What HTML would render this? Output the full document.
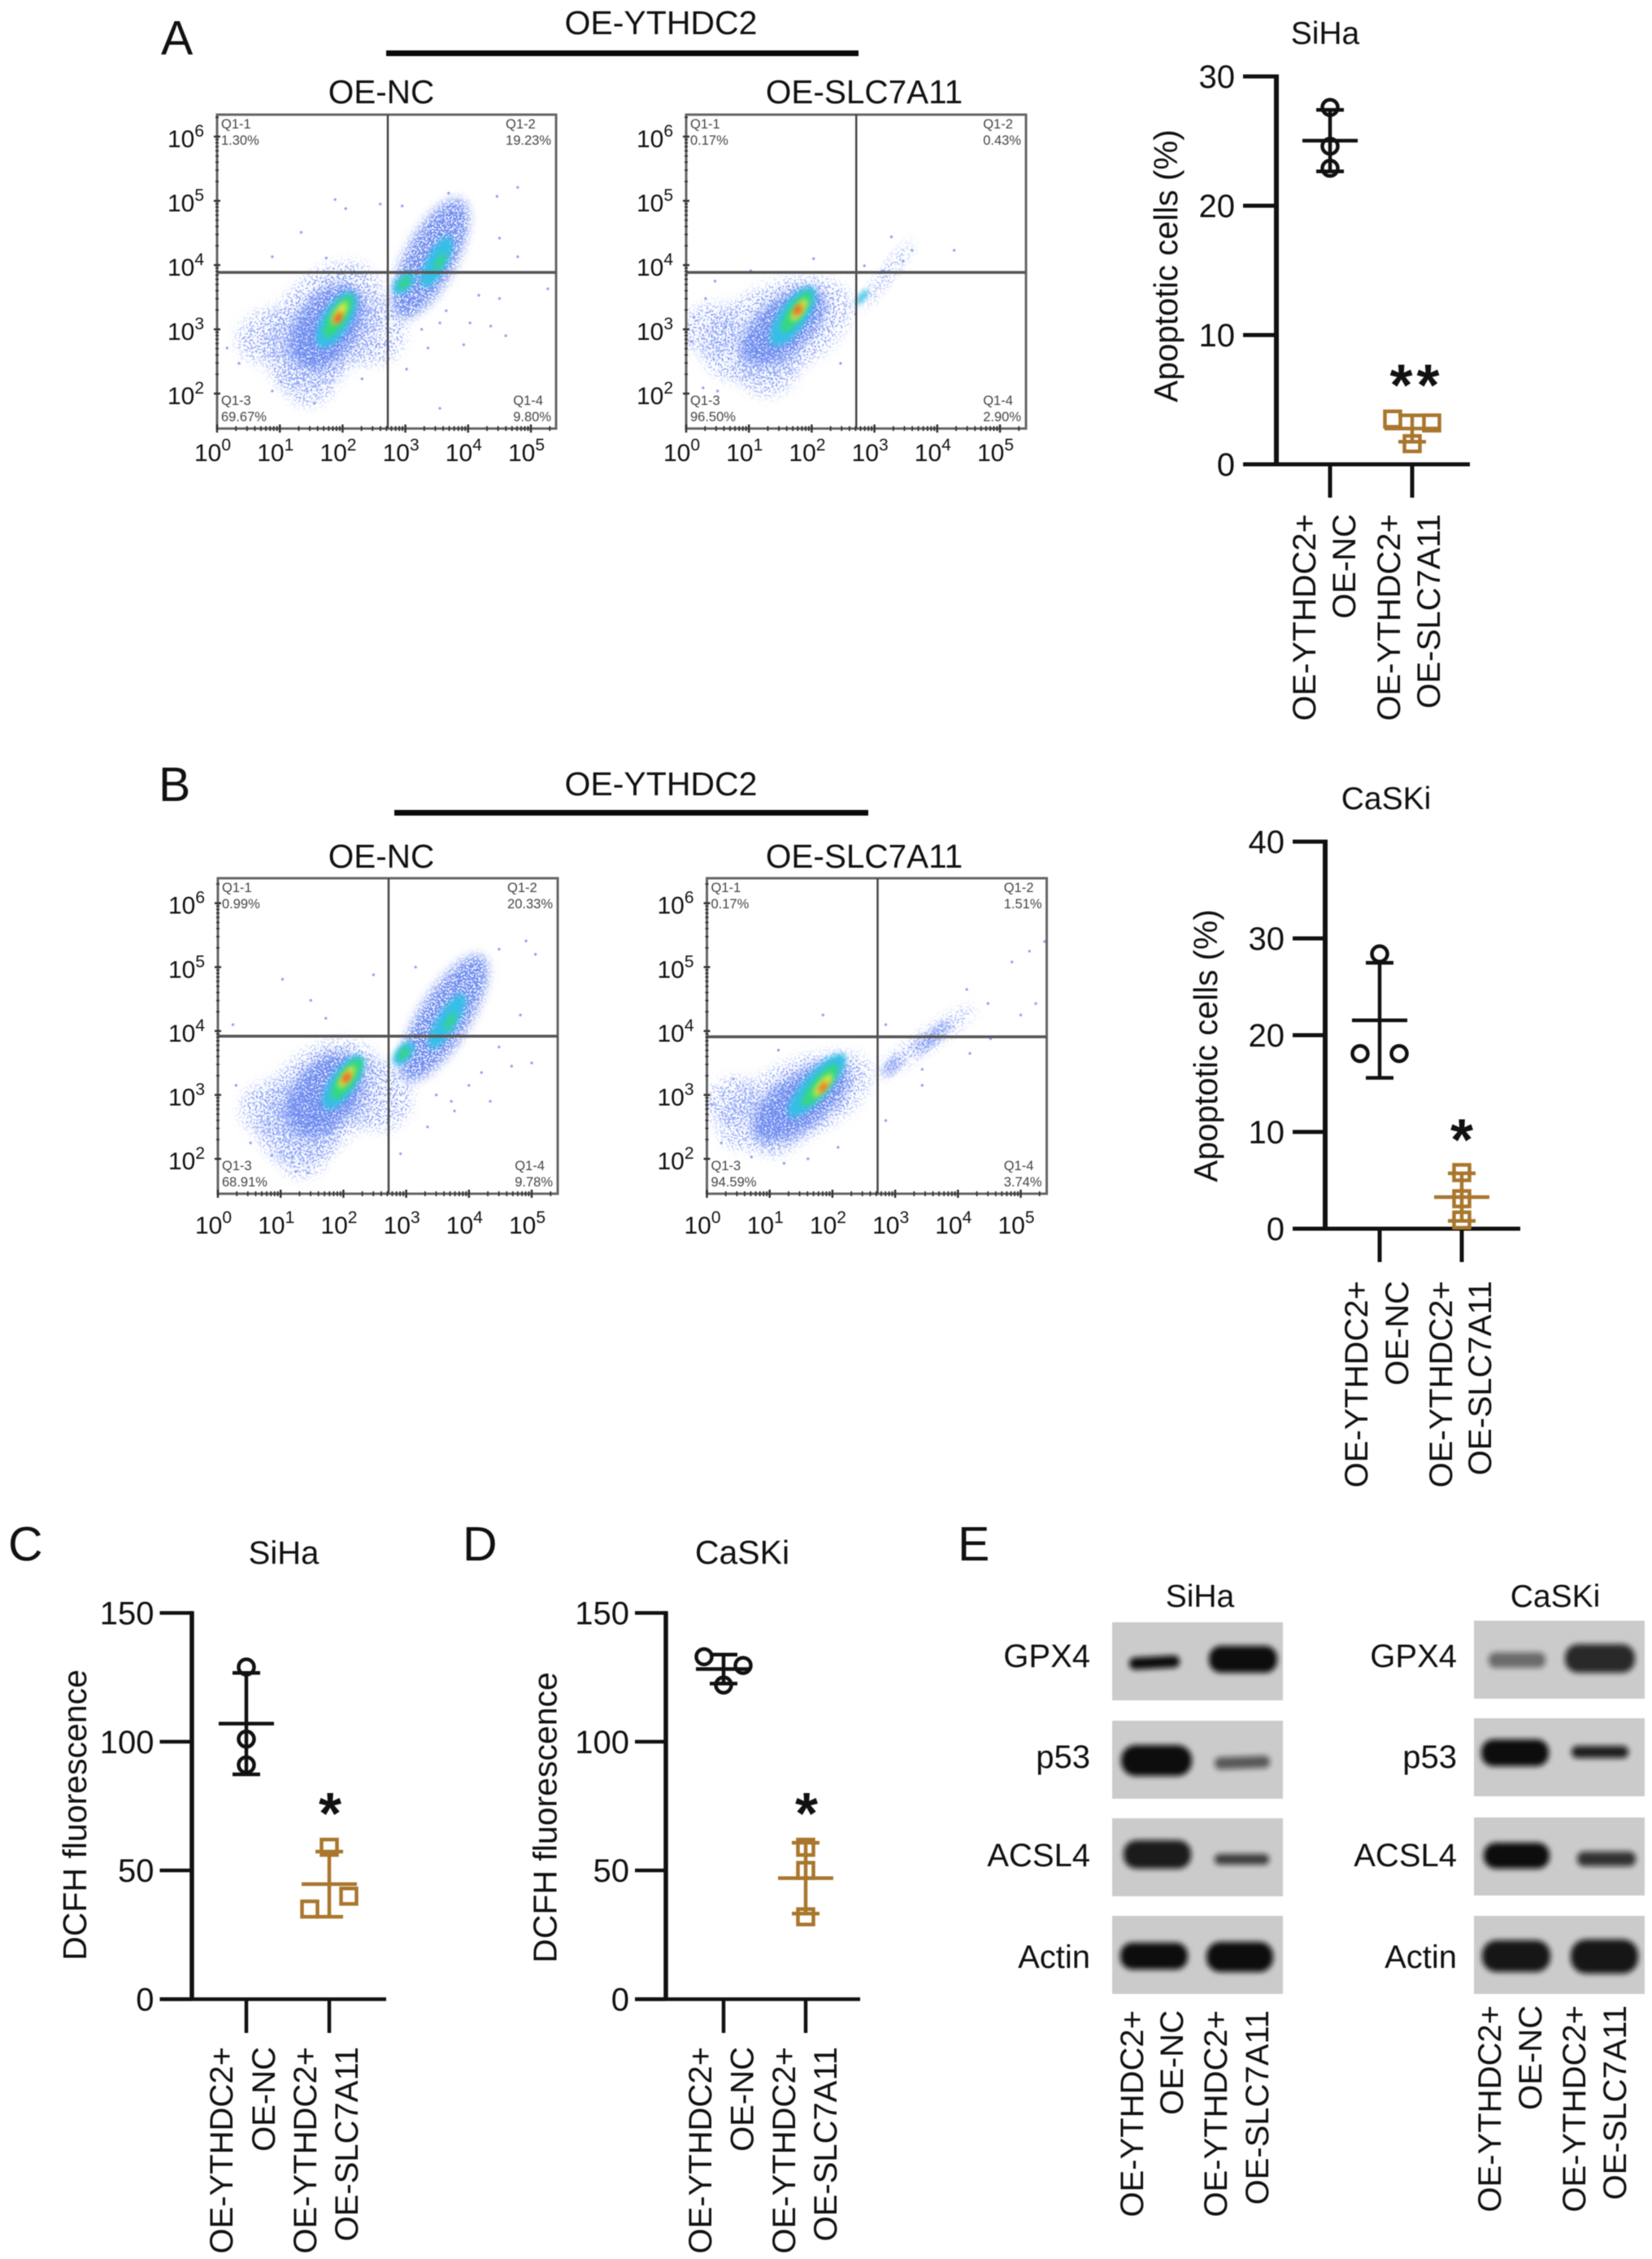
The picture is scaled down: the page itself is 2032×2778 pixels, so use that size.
<!DOCTYPE html>
<html lang="en">
<head>
<meta charset="utf-8">
<title>OE-YTHDC2 apoptosis and ferroptosis figure</title>
<style>
html,body{margin:0;padding:0;background:#fff;}
svg{display:block;filter:blur(0.6px);}
text{font-family:"Liberation Sans",sans-serif;fill:#111;}
</style>
</head>
<body>
<svg id="figure" xmlns="http://www.w3.org/2000/svg" width="2032" height="2778" viewBox="0 0 2032 2778">
<defs>
<filter id="speckSparse" x="-40%" y="-40%" width="180%" height="180%">
<feGaussianBlur in="SourceGraphic" stdDeviation="7" result="b"/>
<feTurbulence type="fractalNoise" baseFrequency="0.42" numOctaves="1" seed="4" result="n"/>
<feColorMatrix in="n" type="matrix" values="0 0 0 0 0 0 0 0 0 0 0 0 0 0 0 0 0 0 12 -6.2" result="m"/>
<feComposite in="b" in2="m" operator="in"/>
</filter>
<filter id="speck" x="-40%" y="-40%" width="180%" height="180%">
<feGaussianBlur in="SourceGraphic" stdDeviation="6" result="b"/>
<feTurbulence type="fractalNoise" baseFrequency="0.5" numOctaves="1" seed="9" result="n"/>
<feColorMatrix in="n" type="matrix" values="0 0 0 0 0 0 0 0 0 0 0 0 0 0 0 0 0 0 10 -4" result="m"/>
<feComposite in="b" in2="m" operator="in"/>
</filter>
<filter id="soft" x="-50%" y="-50%" width="200%" height="200%"><feGaussianBlur stdDeviation="3.5"/></filter>
<filter id="band" x="-20%" y="-50%" width="140%" height="200%"><feGaussianBlur stdDeviation="3.5"/></filter>
</defs>

<text x="198" y="67" font-size="59">A</text>
<text x="195" y="985" font-size="59">B</text>
<text x="10" y="1919" font-size="59">C</text>
<text x="569" y="1919" font-size="59">D</text>
<text x="1178" y="1919" font-size="59">E</text>

<text x="813" y="42" font-size="41" text-anchor="middle">OE-YTHDC2</text>
<rect x="475" y="62" width="581" height="7" fill="#0a0a0a"/>
<text x="469" y="127" font-size="40.5" text-anchor="middle">OE-NC</text>
<text x="1063" y="127" font-size="40.5" text-anchor="middle">OE-SLC7A11</text>

<text x="813" y="978" font-size="41" text-anchor="middle">OE-YTHDC2</text>
<rect x="485" y="996" width="583" height="7" fill="#0a0a0a"/>
<text x="469" y="1067" font-size="40.5" text-anchor="middle">OE-NC</text>
<text x="1063" y="1067" font-size="40.5" text-anchor="middle">OE-SLC7A11</text>

<g id="flowLayer"></g>
<g id="dotLayer"></g>

<g>
<text x="1476" y="1976" font-size="39" text-anchor="middle">SiHa</text>
<text x="1913" y="1976" font-size="39" text-anchor="middle">CaSKi</text>

<rect x="1368" y="1995" width="210" height="96" fill="#cbcbcb"/>
<rect x="1368" y="2116" width="210" height="96" fill="#cbcbcb"/>
<rect x="1368" y="2236" width="210" height="96" fill="#cbcbcb"/>
<rect x="1368" y="2356" width="210" height="96" fill="#cbcbcb"/>
<rect x="1813" y="1993" width="210" height="96" fill="#cbcbcb"/>
<rect x="1813" y="2113" width="210" height="96" fill="#cbcbcb"/>
<rect x="1813" y="2235" width="210" height="96" fill="#cbcbcb"/>
<rect x="1813" y="2356" width="210" height="96" fill="#cbcbcb"/>

<g fill="#0c0c0c">
<rect filter="url(#band)" x="1389" y="2037" width="62" height="15" rx="7" transform="rotate(-3 1420 2044)"/>
<rect filter="url(#band)" x="1487" y="2024" width="84" height="33" rx="15"/>
<rect filter="url(#band)" x="1379" y="2146" width="87" height="38" rx="18"/>
<rect filter="url(#band)" x="1494" y="2160" width="68" height="15" rx="7" opacity="0.6" transform="rotate(-2 1528 2168)"/>
<rect filter="url(#band)" x="1382" y="2263" width="83" height="35" rx="16" opacity="0.92"/>
<rect filter="url(#band)" x="1494" y="2280" width="67" height="13" rx="6" opacity="0.75"/>
<rect filter="url(#band)" x="1378" y="2389" width="83" height="33" rx="15"/>
<rect filter="url(#band)" x="1484" y="2388" width="82" height="37" rx="17"/>
<rect filter="url(#band)" x="1831" y="2032" width="70" height="19" rx="8" opacity="0.5"/>
<rect filter="url(#band)" x="1925" y="2022" width="86" height="35" rx="16" opacity="0.85"/>
<rect filter="url(#band)" x="1822" y="2139" width="83" height="33" rx="15"/>
<rect filter="url(#band)" x="1933" y="2147" width="70" height="15" rx="7" opacity="0.9"/>
<rect filter="url(#band)" x="1825" y="2266" width="81" height="32" rx="15"/>
<rect filter="url(#band)" x="1940" y="2277" width="72" height="18" rx="8" opacity="0.8"/>
<rect filter="url(#band)" x="1823" y="2386" width="84" height="39" rx="18" opacity="0.95"/>
<rect filter="url(#band)" x="1932" y="2385" width="83" height="42" rx="19" opacity="0.95"/>
</g>

<text x="1341" y="2050" font-size="40" text-anchor="end">GPX4</text>
<text x="1341" y="2174" font-size="40" text-anchor="end">p53</text>
<text x="1341" y="2295" font-size="40" text-anchor="end">ACSL4</text>
<text x="1341" y="2420" font-size="40" text-anchor="end">Actin</text>
<text x="1792" y="2050" font-size="40" text-anchor="end">GPX4</text>
<text x="1792" y="2174" font-size="40" text-anchor="end">p53</text>
<text x="1792" y="2295" font-size="40" text-anchor="end">ACSL4</text>
<text x="1792" y="2420" font-size="40" text-anchor="end">Actin</text>

<text transform="rotate(-90 1406 2472)" x="1406" y="2472" font-size="40" text-anchor="end">OE-YTHDC2+</text>
<text transform="rotate(-90 1455 2472)" x="1455" y="2472" font-size="40" text-anchor="end">OE-NC</text>
<text transform="rotate(-90 1509 2472)" x="1509" y="2472" font-size="40" text-anchor="end">OE-YTHDC2+</text>
<text transform="rotate(-90 1560 2472)" x="1560" y="2472" font-size="40" text-anchor="end">OE-SLC7A11</text>
<text transform="rotate(-90 1846 2466)" x="1846" y="2466" font-size="40" text-anchor="end">OE-YTHDC2+</text>
<text transform="rotate(-90 1896 2466)" x="1896" y="2466" font-size="40" text-anchor="end">OE-NC</text>
<text transform="rotate(-90 1950 2466)" x="1950" y="2466" font-size="40" text-anchor="end">OE-YTHDC2+</text>
<text transform="rotate(-90 2000 2466)" x="2000" y="2466" font-size="40" text-anchor="end">OE-SLC7A11</text>
</g>
</svg>

<script>
/* ---------- Dot plot data ---------- */
const categoryFirstLine = ["OE-YTHDC2+", "OE-YTHDC2+"];
const categorySecondLine = ["OE-NC", "OE-SLC7A11"];

const apoptosisSihaTicks = [0, 10, 20, 30];
const apoptosisSihaNc = [27.6, 24.6, 22.9];
const apoptosisSihaNcSlots = [0, 0, 0];
const apoptosisSihaSlc = [3.5, 3.2, 1.6];
const apoptosisSihaSlcSlots = [-1, 1, 0];
const apoptosisSihaStarValue = 6.5;

const apoptosisCaskiTicks = [0, 10, 20, 30, 40];
const apoptosisCaskiNc = [28.4, 18.1, 18.1];
const apoptosisCaskiNcSlots = [0, -1, 1];
const apoptosisCaskiSlc = [5.8, 3.1, 0.9];
const apoptosisCaskiSlcSlots = [0, 0, 0];
const apoptosisCaskiStarValue = 9.7;

const dcfhTicks = [0, 50, 100, 150];
const dcfhSihaNc = [129, 101, 91];
const dcfhSihaNcSlots = [0, 0, 0];
const dcfhSihaSlc = [59, 40, 35];
const dcfhSihaSlcSlots = [0, 1, -1];
const dcfhSihaStarValue = 74;

const dcfhCaskiNc = [133, 129.6, 122];
const dcfhCaskiNcSlots = [-1, 1, 0];
const dcfhCaskiSlc = [59, 50, 32];
const dcfhCaskiSlcSlots = [0, 0, 0];
const dcfhCaskiStarValue = 74;

/* ---------- Flow cytometry data (log10 units) ---------- */
const flowXDecades = [0, 1, 2, 3, 4, 5];
const flowYDecades = [2, 3, 4, 5, 6];
const densityPalette = ['#8ea4f6', '#6c8aef', '#35bfe6', '#35d97a', '#ecea3a', '#ee4a22'];

const aNcGateX = 2.72;
const aNcGateY = 3.886;
const aNcQuadPercents = ["1.30%", "19.23%", "69.67%", "9.80%"];
const aNcDensityX = [1.7, 1.5, 0.8, 2.4, 3.4, 1.75, 1.9, 3.5, 2.98, 1.93, 3.55, 2.98, 1.95, 1.93];
const aNcDensityY = [3.05, 2.5, 2.9, 3.0, 4.1, 3.05, 3.15, 4.05, 3.72, 3.2, 4.05, 3.72, 3.25, 3.18];
const aNcDensityLong = [1.15, 0.7, 0.5, 0.55, 1.05, 0.75, 0.5, 0.45, 0.22, 0.38, 0.15, 0.12, 0.2, 0.1];
const aNcDensityShort = [0.75, 0.5, 0.4, 0.6, 0.4, 0.48, 0.22, 0.16, 0.12, 0.13, 0.05, 0.06, 0.07, 0.05];
const aNcDensityTilt = [-50, -80, -30, -60, -62, -55, -58, -62, -45, -58, -60, -45, -58, -58];
const aNcDensityLevel = [0, 0, 0, 0, 1, 1, 2, 2, 2, 3, 3, 3, 4, 5];
const aNcSparseX = [1.34, 1.88, 2.05, 2.6, 2.95, 3.69, 4.79, 4.46, 0.88, 1.74, 0.35, 0.88, 1.55, 3.55, 3.02, 4.03, 4.36, 4.6, 5.27, 4.5, 4.79, 4.5, 3.36, 3.55, 1.02, 0.16, 3.93, 2.31, 2.93, 3.26, 3.65, 4.17];
const aNcSparseY = [4.51, 5.02, 4.88, 4.95, 4.92, 5.12, 5.21, 5.07, 4.13, 4.11, 2.47, 2.04, 1.85, 1.77, 2.38, 3.1, 3.05, 2.9, 3.63, 3.48, 4.13, 4.42, 2.71, 3.1, 2.18, 2.71, 2.76, 2.23, 3.29, 3, 3.29, 3.53];

const aSlcGateX = 2.71;
const aSlcGateY = 3.886;
const aSlcQuadPercents = ["0.17%", "0.43%", "96.50%", "2.90%"];
const aSlcDensityX = [1.45, 1.3, 0.4, 3.2, 1.55, 1.7, 2.8, 1.75, 1.8, 1.78];
const aSlcDensityY = [3.0, 2.5, 3.0, 3.85, 3.05, 3.2, 3.5, 3.27, 3.3, 3.3];
const aSlcDensityLong = [1.25, 0.55, 0.45, 0.65, 0.8, 0.55, 0.15, 0.38, 0.2, 0.1];
const aSlcDensityShort = [0.7, 0.5, 0.4, 0.1, 0.42, 0.22, 0.05, 0.12, 0.07, 0.05];
const aSlcDensityTilt = [-25, -80, -20, -52, -40, -55, -50, -55, -55, -55];
const aSlcDensityLevel = [0, 0, 0, 0, 1, 2, 2, 3, 4, 5];
const aSlcSparseX = [4.27, 3.27, 3.6, 2.03, 1.03, 0.46, 0.31, 0.27, 0.5, 2.46, 1.36, 0.08, 2.84, 3.13, 3.46, 0.89, 0.12, 2.7];
const aSlcSparseY = [4.23, 4.44, 4.23, 4.1, 3.91, 3.75, 3.48, 2.09, 2.04, 2.47, 2.23, 2.81, 3.99, 3.91, 4.06, 2.57, 3.19, 3.24];

const bNcGateX = 2.72;
const bNcGateY = 3.92;
const bNcQuadPercents = ["0.99%", "20.33%", "68.91%", "9.78%"];
const bNcDensityX = [1.6, 1.4, 0.8, 2.5, 3.6, 1.7, 2.0, 3.65, 2.96, 2.05, 3.7, 2.96, 2.05, 2.05];
const bNcDensityY = [2.9, 2.45, 2.8, 3.0, 4.2, 3.0, 3.2, 4.15, 3.65, 3.25, 4.15, 3.65, 3.28, 3.27];
const bNcDensityLong = [1.15, 0.75, 0.45, 0.55, 1.15, 0.75, 0.5, 0.5, 0.22, 0.38, 0.15, 0.12, 0.2, 0.1];
const bNcDensityShort = [0.75, 0.5, 0.4, 0.6, 0.4, 0.5, 0.2, 0.16, 0.12, 0.13, 0.05, 0.06, 0.07, 0.05];
const bNcDensityTilt = [-45, -80, -30, -60, -58, -52, -55, -58, -50, -55, -60, -50, -55, -55];
const bNcDensityLevel = [0, 0, 0, 0, 1, 1, 2, 2, 2, 3, 3, 3, 4, 5];
const bNcSparseX = [1.03, 4.91, 4.48, 5.06, 2.48, 3.15, 1.48, 0.24, 1.72, 4.82, 5, 4.68, 4.34, 4.2, 3.72, 3.48, 3.77, 3.34, 0.86, 1.24, 1.43, 2.91, 0.29, 0.52, 4.48, 4];
const bNcSparseY = [4.81, 5.41, 5.28, 5.2, 4.88, 5, 4.48, 4.1, 4.2, 4.25, 3.5, 3.45, 2.9, 3.35, 2.9, 3, 2.75, 2.5, 2.05, 1.8, 1.78, 2.08, 3.15, 2.25, 3.75, 3.15];

const bSlcGateX = 2.72;
const bSlcGateY = 3.91;
const bSlcQuadPercents = ["0.17%", "1.51%", "94.59%", "3.74%"];
const bSlcDensityX = [1.4, 1.2, 0.4, 3.5, 1.5, 2.95, 1.75, 3.6, 1.8, 1.85, 1.85];
const bSlcDensityY = [2.9, 2.6, 2.9, 3.85, 2.9, 3.45, 3.15, 3.9, 3.15, 3.15, 3.12];
const bSlcDensityLong = [1.3, 0.6, 0.45, 0.9, 0.9, 0.2, 0.65, 0.35, 0.42, 0.22, 0.1];
const bSlcDensityShort = [0.6, 0.4, 0.35, 0.15, 0.42, 0.08, 0.2, 0.08, 0.12, 0.07, 0.04];
const bSlcDensityTilt = [-25, -60, -20, -35, -35, -45, -48, -40, -50, -50, -50];
const bSlcDensityLevel = [0, 0, 0, 0, 1, 1, 2, 1, 3, 4, 5];
const bSlcSparseX = [5.38, 5.14, 4.86, 4.14, 4.48, 5.24, 5, 2.85, 1.85, 1.14, 0.42, 4.52, 4.19, 3.43, 2.85, 2.09, 1.23, 0.71, 0.23, 0.09, 1.61, 3.43];
const bSlcSparseY = [5.4, 5.25, 5.08, 4.65, 4.43, 4.43, 4.25, 4.1, 4.25, 3.7, 3.25, 3.88, 3.65, 3.15, 2.6, 2.18, 1.93, 2.03, 2.25, 2.85, 2, 3.4];

/* ---------- Helpers ---------- */
const SVG_NS = 'http://www.w3.org/2000/svg';
const BROWN = '#a9762d';
const INK = '#111111';

function shape(tag, attrs, parent) {
  const el = document.createElementNS(SVG_NS, tag);
  for (const key in attrs) el.setAttribute(key, attrs[key]);
  parent.appendChild(el);
  return el;
}
function line(parent, x1, y1, x2, y2, color, width) {
  return shape('line', {x1: x1, y1: y1, x2: x2, y2: y2, stroke: color, 'stroke-width': width}, parent);
}
function label(parent, x, y, str, size, anchor) {
  const el = shape('text', {x: x, y: y, 'font-size': size, 'text-anchor': anchor || 'start'}, parent);
  el.textContent = str;
  return el;
}
function mean(values) {
  return values.reduce(function (a, b) { return a + b; }, 0) / values.length;
}
function stdDev(values) {
  const m = mean(values);
  return Math.sqrt(values.reduce(function (a, b) { return a + (b - m) * (b - m); }, 0) / (values.length - 1));
}

/* ---------- Dot plot ---------- */
function drawDotPlot(c) {
  const g = shape('g', {}, document.getElementById('dotLayer'));
  
  
  const yOf = function (v) { return c.y0 + (c.yTop - c.y0) * v / c.yMax; };

  const title = label(g, c.titleX, c.titleY, c.title, c.titleSize, 'middle');
  
  

  const yTitle = label(g, c.yTitleX, c.yTitleY, c.yTitle, c.yTitleSize, 'middle');
  yTitle.setAttribute('transform', 'rotate(-90 ' + c.yTitleX + ' ' + c.yTitleY + ')');
  
  

  const yAxis = line(g, c.axisX, yOf(c.yMax) - c.lw / 2, c.axisX, c.y0, INK, c.lw + 1);
  
  
  const xAxis = line(g, c.tickLeft, c.y0, c.axisEnd, c.y0, INK, c.lw);
  
  

  c.ticks.forEach(function (t) {
    const tick = line(g, c.tickLeft, yOf(t), c.axisX, yOf(t), INK, c.lw);
    
    
    const tl = label(g, c.tickLeft - c.tickGap, yOf(t) + 14, String(t), 40, 'end');
    
    
  });

  c.groups.forEach(function (grp, i) {
    const cx = c.catX[i];
    const color = i === 0 ? INK : BROWN;
    const gg = shape('g', {}, g);
    
    

    const tick = line(gg, cx, c.y0, cx, c.tickBottom, INK, c.lw);
    
    

    const first = label(gg, c.labelX[i][0], c.labelTop, categoryFirstLine[i], 40, 'end');
    first.setAttribute('transform', 'rotate(-90 ' + c.labelX[i][0] + ' ' + c.labelTop + ')');
    
    
    const second = label(gg, c.labelX[i][1], c.labelTop, categorySecondLine[i], 40, 'end');
    second.setAttribute('transform', 'rotate(-90 ' + c.labelX[i][1] + ' ' + c.labelTop + ')');
    
    

    const m = mean(grp.values);
    const sd = stdDev(grp.values);
    const meanLine = line(gg, cx - 34, yOf(m), cx + 34, yOf(m), color, 4.5);
    
    
    const stem = line(gg, cx, yOf(m + sd), cx, yOf(m - sd), color, 4.5);
    
    
    const capTop = line(gg, cx - 17, yOf(m + sd), cx + 17, yOf(m + sd), color, 4.5);
    
    
    const capBottom = line(gg, cx - 17, yOf(m - sd), cx + 17, yOf(m - sd), color, 4.5);
    
    

    grp.values.forEach(function (v, k) {
      const px = cx + grp.slots[k] * 24;
      let mark;
      if (i === 0) {
        mark = shape('circle', {cx: px, cy: yOf(v), r: 9.5, fill: 'none', stroke: color, 'stroke-width': 4.5}, gg);
      } else {
        mark = shape('rect', {x: px - 9.5, y: yOf(v) - 9.5, width: 19, height: 19, fill: 'none', stroke: color, 'stroke-width': 4.5}, gg);
      }
      
      
    });
  });

  for (let s = 0; s < c.stars; s++) {
    const sx = c.catX[1] + c.starShift + (s - (c.stars - 1) / 2) * 33;
    const star = label(g, sx, yOf(c.starValue) + 31, '*', 72, 'middle');
    star.setAttribute('font-weight', 'bold');
    
    
  }
}

drawDotPlot({
  name: 'chart-apoptosis-siha', title: 'SiHa', titleX: 1630, titleY: 54, titleSize: 39, tickGap: 10,
  yTitle: 'Apoptotic cells (%)', yTitleX: 1448, yTitleY: 327, yTitleSize: 40.5,
  axisX: 1570, y0: 571, yTop: 94, yMax: 30, ticks: apoptosisSihaTicks, lw: 5,
  tickLeft: 1529, axisEnd: 1808, tickBottom: 612, catX: [1636, 1737],
  labelX: [[1618, 1667], [1722, 1771]], labelTop: 632,
  groups: [{values: apoptosisSihaNc, slots: apoptosisSihaNcSlots}, {values: apoptosisSihaSlc, slots: apoptosisSihaSlcSlots}],
  stars: 2, starShift: 3, starValue: apoptosisSihaStarValue
});
drawDotPlot({
  name: 'chart-apoptosis-caski', title: 'CaSKi', titleX: 1705, titleY: 995, titleSize: 39, tickGap: 10,
  yTitle: 'Apoptotic cells (%)', yTitleX: 1497, yTitleY: 1286, yTitleSize: 40.5,
  axisX: 1630, y0: 1511, yTop: 1035, yMax: 40, ticks: apoptosisCaskiTicks, lw: 5,
  tickLeft: 1590, axisEnd: 1870, tickBottom: 1552, catX: [1697, 1798],
  labelX: [[1682, 1732], [1786, 1834]], labelTop: 1575,
  groups: [{values: apoptosisCaskiNc, slots: apoptosisCaskiNcSlots}, {values: apoptosisCaskiSlc, slots: apoptosisCaskiSlcSlots}],
  stars: 1, starShift: 0, starValue: apoptosisCaskiStarValue
});
drawDotPlot({
  name: 'chart-dcfh-siha', title: 'SiHa', titleX: 349, titleY: 1923, titleSize: 40, tickGap: 7,
  yTitle: 'DCFH fluorescence', yTitleX: 106, yTitleY: 2232, yTitleSize: 41,
  axisX: 236, y0: 2458.5, yTop: 1983.5, yMax: 150, ticks: dcfhTicks, lw: 4.5,
  tickLeft: 196.5, axisEnd: 475, tickBottom: 2500, catX: [303, 405],
  labelX: [[286, 338], [389, 440]], labelTop: 2517,
  groups: [{values: dcfhSihaNc, slots: dcfhSihaNcSlots}, {values: dcfhSihaSlc, slots: dcfhSihaSlcSlots}],
  stars: 1, starShift: 1, starValue: dcfhSihaStarValue
});
drawDotPlot({
  name: 'chart-dcfh-caski', title: 'CaSKi', titleX: 913, titleY: 1923, titleSize: 41, tickGap: 7,
  yTitle: 'DCFH fluorescence', yTitleX: 684.5, yTitleY: 2235, yTitleSize: 41,
  axisX: 819, y0: 2458.5, yTop: 1983.5, yMax: 150, ticks: dcfhTicks, lw: 4.5,
  tickLeft: 781, axisEnd: 1058, tickBottom: 2500, catX: [890, 991],
  labelX: [[875, 926.5], [978, 1029]], labelTop: 2517,
  groups: [{values: dcfhCaskiNc, slots: dcfhCaskiNcSlots}, {values: dcfhCaskiSlc, slots: dcfhCaskiSlcSlots}],
  stars: 1, starShift: 1, starValue: dcfhCaskiStarValue
});

/* ---------- Flow plot ---------- */
let flowClipCounter = 0;
function drawFlowPlot(c) {
  const g = shape('g', {}, document.getElementById('flowLayer'));
  
  
  const xOf = function (v) { return c.left + v * 77.2; };
  const yOf = function (v) { return c.y3 - (v - 3) * c.decadeY; };
  const w = c.right - c.left;
  const h = c.bottom - c.top;

  flowClipCounter += 1;
  const clipId = 'flowClip' + flowClipCounter;
  const clip = shape('clipPath', {id: clipId}, g);
  shape('rect', {x: c.left, y: c.top, width: w, height: h}, clip);

  const cloud = shape('g', {'clip-path': 'url(#' + clipId + ')'}, g);
  
  
  c.dx.forEach(function (v, i) {
    const lvl = c.dl[i];
    const el = shape('ellipse', {
      cx: xOf(v), cy: yOf(c.dy[i]),
      rx: c.dLong[i] * 78, ry: c.dShort[i] * 78,
      fill: densityPalette[lvl],
      transform: 'rotate(' + c.dTilt[i] + ' ' + xOf(v) + ' ' + yOf(c.dy[i]) + ')',
      filter: lvl === 0 ? 'url(#speckSparse)' : (lvl === 1 ? 'url(#speck)' : 'url(#soft)')
    }, cloud);
    
    
  });
  c.sx.forEach(function (v, i) {
    const p = shape('circle', {cx: xOf(v), cy: yOf(c.sy[i]), r: 1.7, fill: '#93a5f3'}, cloud);
    
    
  });

  const frame = shape('rect', {x: c.left, y: c.top, width: w, height: h, fill: 'none', stroke: '#666', 'stroke-width': 3}, g);
  
  

  const vGate = line(g, xOf(c.gateX), c.top, xOf(c.gateX), c.bottom, '#444', 2.5);
  
  
  const hGate = line(g, c.left, yOf(c.gateY), c.right, yOf(c.gateY), '#555', 3.5);
  
  

  const minors = [1, 2, 3, 4, 5, 6, 7, 8, 9];
  flowXDecades.forEach(function (d) {
    minors.forEach(function (m) {
      const xv = d + Math.log10(m);
      if (xOf(xv) > c.right) return;
      const t = line(g, xOf(xv), c.bottom - (m === 1 ? 5 : 3), xOf(xv), c.bottom + (m === 1 ? 5 : 3), '#333', m === 1 ? 2.5 : 1.8);
      
      
    });
    const tl = label(g, xOf(d) - 28, c.bottom + c.xLabelGap, '10', 30);
    const sup = shape('tspan', {dy: -13, 'font-size': 21}, tl);
    sup.textContent = String(d);
    
    
  });
  flowYDecades.forEach(function (d) {
    minors.forEach(function (m) {
      const yv = d + Math.log10(m);
      if (yOf(yv) < c.top) return;
      const t = line(g, c.left - (m === 1 ? 4 : 2), yOf(yv), c.left + (m === 1 ? 4 : 2), yOf(yv), '#333', m === 1 ? 2.5 : 1.8);
      
      
    });
    const tl = label(g, c.left - 61, yOf(d) + 13, '10', 30);
    const sup = shape('tspan', {dy: -13, 'font-size': 21}, tl);
    sup.textContent = String(d);
    
    
  });

  const corners = [
    {id: 'Q1-1', x: c.left + 5, end: false, yy: c.top + 17},
    {id: 'Q1-2', x: c.right - 6, end: true, yy: c.top + 17},
    {id: 'Q1-3', x: c.left + 5, end: false, yy: c.bottom - 29},
    {id: 'Q1-4', x: c.right - 6, end: true, yy: c.bottom - 29}
  ];
  corners.forEach(function (q, i) {
    const pct = label(g, q.x, q.yy + 20, c.quad[i], 16.5, q.end ? 'end' : 'start');
    pct.style.fill = '#444';
    
    
    const qx = q.end ? q.x - pct.getComputedTextLength() : q.x;
    const id = label(g, qx, q.yy, q.id, 16.5);
    id.style.fill = '#444';
    
    
  });
}

drawFlowPlot({name: 'flow-a-oe-nc', left: 267, right: 684, top: 141, bottom: 527, y3: 405, decadeY: 79, xLabelGap: 40,
  gateX: aNcGateX, gateY: aNcGateY, quad: aNcQuadPercents,
  dx: aNcDensityX, dy: aNcDensityY, dLong: aNcDensityLong, dShort: aNcDensityShort, dTilt: aNcDensityTilt, dl: aNcDensityLevel,
  sx: aNcSparseX, sy: aNcSparseY});
drawFlowPlot({name: 'flow-a-oe-slc7a11', left: 844, right: 1262, top: 141, bottom: 527, y3: 405, decadeY: 79, xLabelGap: 40,
  gateX: aSlcGateX, gateY: aSlcGateY, quad: aSlcQuadPercents,
  dx: aSlcDensityX, dy: aSlcDensityY, dLong: aSlcDensityLong, dShort: aSlcDensityShort, dTilt: aSlcDensityTilt, dl: aSlcDensityLevel,
  sx: aSlcSparseX, sy: aSlcSparseY});
drawFlowPlot({name: 'flow-b-oe-nc', left: 268, right: 686, top: 1080, bottom: 1468, y3: 1346.5, decadeY: 78.6, xLabelGap: 49,
  gateX: bNcGateX, gateY: bNcGateY, quad: bNcQuadPercents,
  dx: bNcDensityX, dy: bNcDensityY, dLong: bNcDensityLong, dShort: bNcDensityShort, dTilt: bNcDensityTilt, dl: bNcDensityLevel,
  sx: bNcSparseX, sy: bNcSparseY});
drawFlowPlot({name: 'flow-b-oe-slc7a11', left: 869.5, right: 1287.5, top: 1080, bottom: 1468, y3: 1346.5, decadeY: 78.6, xLabelGap: 49,
  gateX: bSlcGateX, gateY: bSlcGateY, quad: bSlcQuadPercents,
  dx: bSlcDensityX, dy: bSlcDensityY, dLong: bSlcDensityLong, dShort: bSlcDensityShort, dTilt: bSlcDensityTilt, dl: bSlcDensityLevel,
  sx: bSlcSparseX, sy: bSlcSparseY});
</script>
</body>
</html>
